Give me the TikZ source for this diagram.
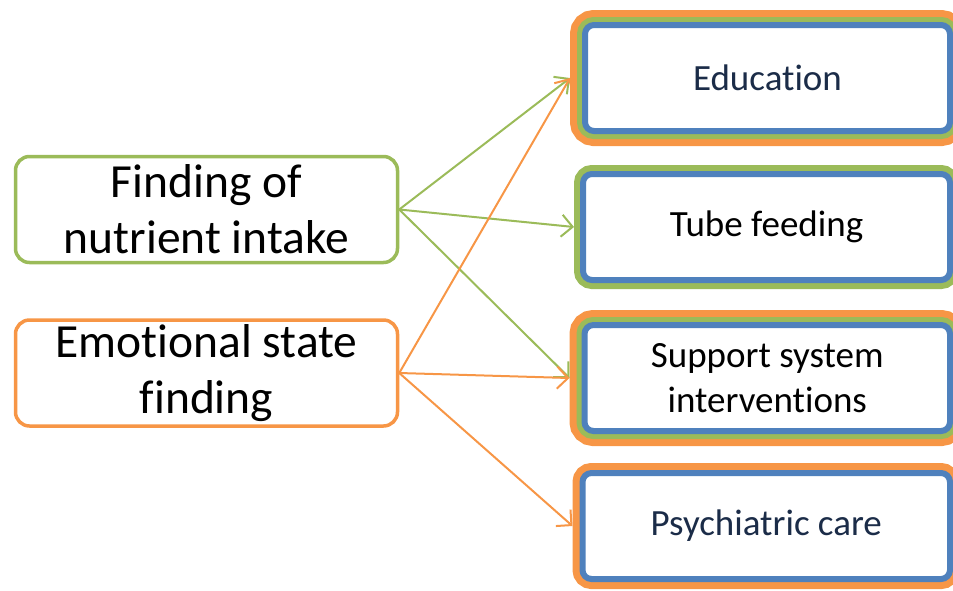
\documentclass[tikz,border=0pt]{standalone}
\usepackage{fontspec}
\setmainfont{Carlito}[Ligatures=NoCommon]
\usepackage{tikz}
\usetikzlibrary{arrows.meta}

\definecolor{ordOrange}{HTML}{F79646}
\definecolor{ordGreen}{HTML}{9BBB59}
\definecolor{ordBlue}{HTML}{4F81BD}
\definecolor{ordNavy}{HTML}{1B2C48}

\tikzset{
  finding/.style={rectangle, rounded corners=14pt, line width=3.5pt, fill=white,
    minimum width=382pt, minimum height=106pt, inner sep=0pt, align=center,
    font=\fontsize{47.5}{56}\selectfont},
  action/.style={rectangle, rounded corners=9pt, draw=ordBlue, line width=6pt, fill=white,
    minimum height=106pt, inner sep=0pt, align=center,
    font=\fontsize{37}{45}\selectfont},
  ringO/.style={preaction={draw=ordOrange, line width=#1}},
  ringG/.style={preaction={draw=ordGreen, line width=#1}},
  linkG/.style={draw=ordGreen, line width=2pt, -{Straight Barb[length=11pt, width=22pt]}},
  linkO/.style={draw=ordOrange, line width=2pt, -{Straight Barb[length=11pt, width=22pt]}}
}

\begin{document}
\begin{tikzpicture}[x=1pt, y=-1pt]
\useasboundingbox (0,0) rectangle (953,590);
\clip (0,0) rectangle (953,590);
% findings
\node[finding, draw=ordGreen] (nutrient) at (206.5,209.5) {Finding of\\nutrient intake};
\node[finding, draw=ordOrange] (emotion) at (206.5,373) {Emotional state\\finding};
% interventions
\node[action, ringO=30pt, ringG=16pt, outer sep=15pt, minimum width=365pt, text=ordNavy] (educ) at (767.5,78) {Education};
\node[action, ringG=18pt, outer sep=9pt, minimum width=367pt] (tube) at (766.5,227) {Tube feeding};
\node[action, ringO=30pt, ringG=16pt, outer sep=15pt, minimum width=365.5pt] (support) at (767.25,378) {Support system\\interventions};
\node[action, ringO=20pt, outer sep=10pt, minimum width=367.5pt, text=ordNavy] (psych) at (766.25,526) {Psychiatric care};
% links
\draw[linkG] (nutrient.east) -- (educ.west);
\draw[linkG] (nutrient.east) -- (tube.west);
\draw[linkG] (nutrient.east) -- (support.west);
\draw[linkO] (emotion.east) -- (educ.west);
\draw[linkO] (emotion.east) -- (support.west);
\draw[linkO] (emotion.east) -- (psych.west);
\end{tikzpicture}
\end{document}
